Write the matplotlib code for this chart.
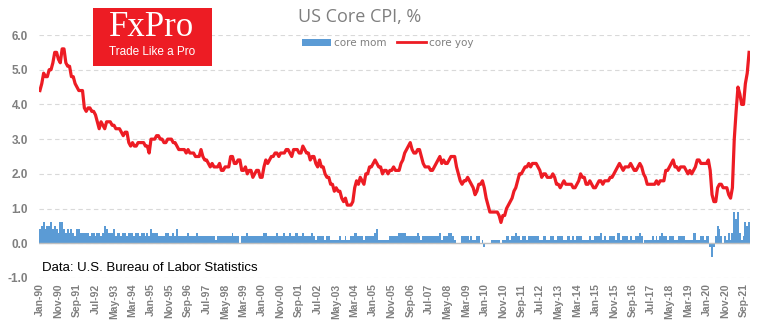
import numpy as np
import pandas as pd
import matplotlib
matplotlib.use('Agg')
import matplotlib.pyplot as plt
from matplotlib.patches import Rectangle, Patch
from matplotlib.lines import Line2D

# core CPI, y/y %, Jan-1990 .. Dec-2021
core_yoy = [
    4.4, 4.6, 4.9, 4.8, 4.8, 5.0, 5.0, 5.2, 5.5, 5.5, 5.3, 5.2,   # 1990
    5.6, 5.6, 5.2, 5.1, 5.1, 4.8, 4.8, 4.6, 4.5, 4.4, 4.4, 4.4,   # 1991
    3.9, 3.8, 3.9, 3.9, 3.8, 3.8, 3.7, 3.5, 3.3, 3.5, 3.4, 3.3,   # 1992
    3.5, 3.5, 3.5, 3.4, 3.4, 3.3, 3.3, 3.3, 3.2, 3.1, 3.2, 3.2,   # 1993
    2.9, 2.8, 2.9, 2.8, 2.8, 2.9, 2.9, 2.9, 2.9, 2.8, 2.8, 2.6,   # 1994
    3.0, 3.0, 3.0, 3.1, 3.1, 3.0, 3.0, 2.9, 2.9, 3.0, 3.0, 3.0,   # 1995
    2.9, 2.9, 2.8, 2.7, 2.7, 2.7, 2.7, 2.6, 2.7, 2.6, 2.6, 2.6,   # 1996
    2.5, 2.5, 2.5, 2.7, 2.5, 2.4, 2.4, 2.3, 2.2, 2.3, 2.2, 2.2,   # 1997
    2.2, 2.3, 2.1, 2.1, 2.2, 2.2, 2.2, 2.5, 2.5, 2.3, 2.3, 2.4,   # 1998
    2.4, 2.1, 2.1, 2.2, 2.0, 2.1, 2.1, 1.9, 2.0, 2.1, 2.1, 1.9,   # 1999
    1.9, 2.2, 2.4, 2.3, 2.4, 2.5, 2.5, 2.6, 2.6, 2.5, 2.6, 2.6,   # 2000
    2.6, 2.7, 2.7, 2.6, 2.5, 2.7, 2.7, 2.7, 2.6, 2.6, 2.8, 2.7,   # 2001
    2.6, 2.6, 2.4, 2.5, 2.5, 2.3, 2.2, 2.4, 2.2, 2.2, 2.0, 1.9,   # 2002
    1.9, 1.7, 1.7, 1.5, 1.6, 1.5, 1.5, 1.3, 1.2, 1.3, 1.1, 1.1,   # 2003
    1.1, 1.2, 1.6, 1.8, 1.7, 1.9, 1.8, 1.7, 2.0, 2.0, 2.2, 2.2,   # 2004
    2.3, 2.4, 2.3, 2.2, 2.2, 2.0, 2.1, 2.1, 2.0, 2.1, 2.1, 2.2,   # 2005
    2.1, 2.1, 2.1, 2.3, 2.4, 2.6, 2.7, 2.8, 2.9, 2.7, 2.6, 2.6,   # 2006
    2.7, 2.7, 2.5, 2.3, 2.2, 2.2, 2.2, 2.1, 2.1, 2.2, 2.3, 2.4,   # 2007
    2.5, 2.3, 2.4, 2.3, 2.3, 2.4, 2.5, 2.5, 2.5, 2.2, 2.0, 1.8,   # 2008
    1.7, 1.8, 1.8, 1.9, 1.8, 1.7, 1.6, 1.4, 1.5, 1.7, 1.7, 1.8,   # 2009
    1.6, 1.3, 1.1, 0.9, 0.9, 0.9, 0.9, 0.9, 0.8, 0.6, 0.8, 0.8,   # 2010
    1.0, 1.1, 1.2, 1.3, 1.5, 1.6, 1.8, 2.0, 2.0, 2.1, 2.2, 2.2,   # 2011
    2.3, 2.2, 2.3, 2.3, 2.3, 2.2, 2.1, 1.9, 2.0, 2.0, 1.9, 1.9,   # 2012
    1.9, 2.0, 1.9, 1.7, 1.7, 1.6, 1.7, 1.8, 1.7, 1.7, 1.7, 1.7,   # 2013
    1.6, 1.6, 1.7, 1.8, 2.0, 1.9, 1.9, 1.7, 1.7, 1.8, 1.7, 1.6,   # 2014
    1.6, 1.7, 1.8, 1.8, 1.7, 1.8, 1.8, 1.8, 1.9, 1.9, 2.0, 2.1,   # 2015
    2.2, 2.3, 2.2, 2.1, 2.2, 2.2, 2.2, 2.3, 2.2, 2.1, 2.1, 2.2,   # 2016
    2.3, 2.2, 2.0, 1.9, 1.7, 1.7, 1.7, 1.7, 1.7, 1.8, 1.7, 1.8,   # 2017
    1.8, 1.8, 2.1, 2.1, 2.2, 2.3, 2.4, 2.2, 2.2, 2.1, 2.2, 2.2,   # 2018
    2.2, 2.1, 2.0, 2.1, 2.0, 2.1, 2.2, 2.4, 2.4, 2.3, 2.3, 2.3,   # 2019
    2.3, 2.4, 2.1, 1.4, 1.2, 1.2, 1.6, 1.7, 1.7, 1.6, 1.6, 1.6,   # 2020
    1.4, 1.3, 1.6, 3.0, 3.8, 4.5, 4.3, 4.0, 4.0, 4.6, 4.9, 5.5,   # 2021
]

# core CPI, m/m %
core_mom = [
    0.4, 0.5, 0.6, 0.4, 0.5, 0.5, 0.6, 0.4, 0.5, 0.4, 0.3, 0.6,   # 1990
    0.6, 0.4, 0.3, 0.4, 0.3, 0.4, 0.3, 0.2, 0.4, 0.4, 0.3, 0.3,   # 1991
    0.3, 0.3, 0.3, 0.2, 0.3, 0.3, 0.2, 0.3, 0.3, 0.2, 0.3, 0.5,   # 1992
    0.4, 0.3, 0.3, 0.3, 0.4, 0.2, 0.3, 0.3, 0.2, 0.3, 0.3, 0.2,   # 1993
    0.3, 0.3, 0.3, 0.2, 0.3, 0.3, 0.2, 0.3, 0.3, 0.2, 0.3, 0.2,   # 1994
    0.4, 0.3, 0.3, 0.3, 0.2, 0.2, 0.2, 0.2, 0.3, 0.3, 0.2, 0.2,   # 1995
    0.3, 0.2, 0.4, 0.2, 0.2, 0.2, 0.2, 0.2, 0.3, 0.2, 0.2, 0.2,   # 1996
    0.2, 0.3, 0.2, 0.2, 0.2, 0.2, 0.2, 0.2, 0.2, 0.2, 0.2, 0.1,   # 1997
    0.2, 0.2, 0.2, 0.2, 0.2, 0.2, 0.2, 0.2, 0.3, 0.2, 0.2, 0.2,   # 1998
    0.0, 0.2, 0.2, 0.2, 0.3, 0.2, 0.2, 0.2, 0.2, 0.2, 0.2, 0.2,   # 1999
    0.2, 0.3, 0.3, 0.2, 0.2, 0.2, 0.2, 0.2, 0.3, 0.2, 0.2, 0.2,   # 2000
    0.3, 0.2, 0.2, 0.3, 0.2, 0.2, 0.3, 0.3, 0.2, 0.2, 0.3, 0.2,   # 2001
    0.2, 0.2, 0.2, 0.3, 0.2, 0.1, 0.2, 0.2, 0.2, 0.2, 0.1, 0.2,   # 2002
    0.2, 0.1, 0.1, 0.1, 0.1, 0.1, 0.2, 0.1, 0.1, 0.2, 0.1, 0.1,   # 2003
    0.2, 0.2, 0.3, 0.3, 0.2, 0.2, 0.2, 0.1, 0.2, 0.2, 0.2, 0.2,   # 2004
    0.2, 0.3, 0.4, 0.1, 0.1, 0.1, 0.1, 0.1, 0.1, 0.2, 0.2, 0.2,   # 2005
    0.2, 0.2, 0.3, 0.3, 0.3, 0.3, 0.2, 0.2, 0.2, 0.2, 0.2, 0.2,   # 2006
    0.3, 0.2, 0.1, 0.2, 0.2, 0.2, 0.2, 0.2, 0.2, 0.2, 0.2, 0.2,   # 2007
    0.3, 0.1, 0.2, 0.2, 0.2, 0.3, 0.3, 0.2, 0.1, 0.0, 0.0, 0.0,   # 2008
    0.2, 0.2, 0.2, 0.2, 0.1, 0.2, 0.1, 0.1, 0.2, 0.2, 0.0, 0.1,   # 2009
    -0.1, 0.0, 0.0, 0.0, 0.1, 0.1, 0.1, 0.1, 0.1, 0.0, 0.1, 0.1,  # 2010
    0.2, 0.2, 0.1, 0.2, 0.2, 0.3, 0.2, 0.2, 0.1, 0.2, 0.2, 0.1,   # 2011
    0.2, 0.2, 0.2, 0.2, 0.2, 0.2, 0.1, 0.1, 0.2, 0.2, 0.1, 0.1,   # 2012
    0.2, 0.2, 0.1, 0.1, 0.2, 0.2, 0.2, 0.1, 0.1, 0.2, 0.2, 0.1,   # 2013
    0.2, 0.1, 0.2, 0.2, 0.2, 0.1, 0.1, 0.1, 0.1, 0.2, 0.1, 0.1,   # 2014
    0.2, 0.2, 0.2, 0.3, 0.1, 0.2, 0.1, 0.1, 0.2, 0.2, 0.2, 0.1,   # 2015
    0.3, 0.3, 0.1, 0.2, 0.2, 0.2, 0.1, 0.2, 0.1, 0.1, 0.2, 0.2,   # 2016
    0.3, 0.2, 0.0, 0.1, 0.1, 0.1, 0.1, 0.2, 0.1, 0.2, 0.1, 0.2,   # 2017
    0.3, 0.2, 0.2, 0.1, 0.2, 0.2, 0.2, 0.1, 0.1, 0.2, 0.2, 0.2,   # 2018
    0.2, 0.1, 0.1, 0.1, 0.1, 0.3, 0.3, 0.1, 0.1, 0.2, 0.2, 0.1,   # 2019
    0.2, 0.2, -0.1, -0.4, -0.1, 0.2, 0.5, 0.4, 0.2, 0.0, 0.2, 0.1,  # 2020
    0.3, 0.1, 0.3, 0.9, 0.7, 0.9, 0.3, 0.1, 0.2, 0.6, 0.5, 0.6,   # 2021
]

months = pd.date_range('1990-01-01', periods=len(core_yoy), freq='MS')
month_labels = list(months.strftime('%b-%y'))

blue = '#5B9BD5'
red = '#ED1C24'
grey = '#7F7F7F'

fig = plt.figure(figsize=(7.7, 3.3), dpi=100)
ax = fig.add_axes([39 / 770, 52 / 330, 711 / 770, 243 / 330])

x = np.arange(len(core_yoy))
ax.bar(x, core_mom, width=1.0, color=blue, zorder=2)
ax.plot(x, core_yoy, color=red, lw=2.3, zorder=3)
ax.axhline(0, color='#BFBFBF', lw=1.0, zorder=2.5)

ax.set_ylim(-1.0, 6.0)
ax.set_xlim(-0.5, len(x) - 0.5)
ax.set_yticks(np.arange(-1.0, 6.01, 1.0))
ax.set_yticklabels(['%.1f' % v for v in np.arange(-1.0, 6.01, 1.0)])
ax.grid(axis='y', color='#D9D9D9', ls=(0, (4, 3)), lw=0.8, zorder=0)

tick_pos = x[::10]
ax.set_xticks(tick_pos)
ax.set_xticklabels([month_labels[i] for i in tick_pos], rotation=90)
ax.tick_params(axis='x', length=0, pad=4, labelsize=7.5, labelcolor=grey)
ax.tick_params(axis='y', length=0, pad=8, labelsize=8.5, labelcolor=grey)
for lab in ax.get_xticklabels() + ax.get_yticklabels():
    lab.set_fontweight('bold')
    lab.set_family('Liberation Sans')
for s in ax.spines.values():
    s.set_visible(False)

fig.text(360 / 770, 1 - 17 / 330, 'US Core CPI, %', ha='center', va='center',
         fontsize=13, color=grey, family='Open Sans')

handles = [Patch(facecolor=blue, edgecolor='none'),
           Line2D([0], [0], color=red, lw=2)]
fig.legend(handles, ['core mom', 'core yoy'], loc='center',
           bbox_to_anchor=(388 / 770, 1 - 43 / 330), ncol=2, frameon=False,
           fontsize=7.5, labelcolor=grey, handlelength=2.8, handleheight=0.7,
           columnspacing=1.0, handletextpad=0.3)

ax.text(42 / 770, 1 - 268 / 330, 'Data: U.S. Bureau of Labor Statistics',
        transform=fig.transFigure, ha='left', va='center', fontsize=9.5,
        color='black', family='Liberation Sans')

# logo
fig.patches.append(Rectangle((93 / 770, 1 - 66 / 330), 119 / 770, 58 / 330,
                             transform=fig.transFigure, facecolor=red,
                             edgecolor='none', zorder=5))
fig.text(152 / 770, 1 - 28 / 330, 'FxPro', ha='center', va='center',
         fontsize=25, color='white', family='Liberation Serif', zorder=6)
fig.text(152 / 770, 1 - 52 / 330, 'Trade Like a Pro', ha='center', va='center',
         fontsize=8.5, color='white', family='Liberation Sans', zorder=6)

fig.savefig('out.png', dpi=100)
